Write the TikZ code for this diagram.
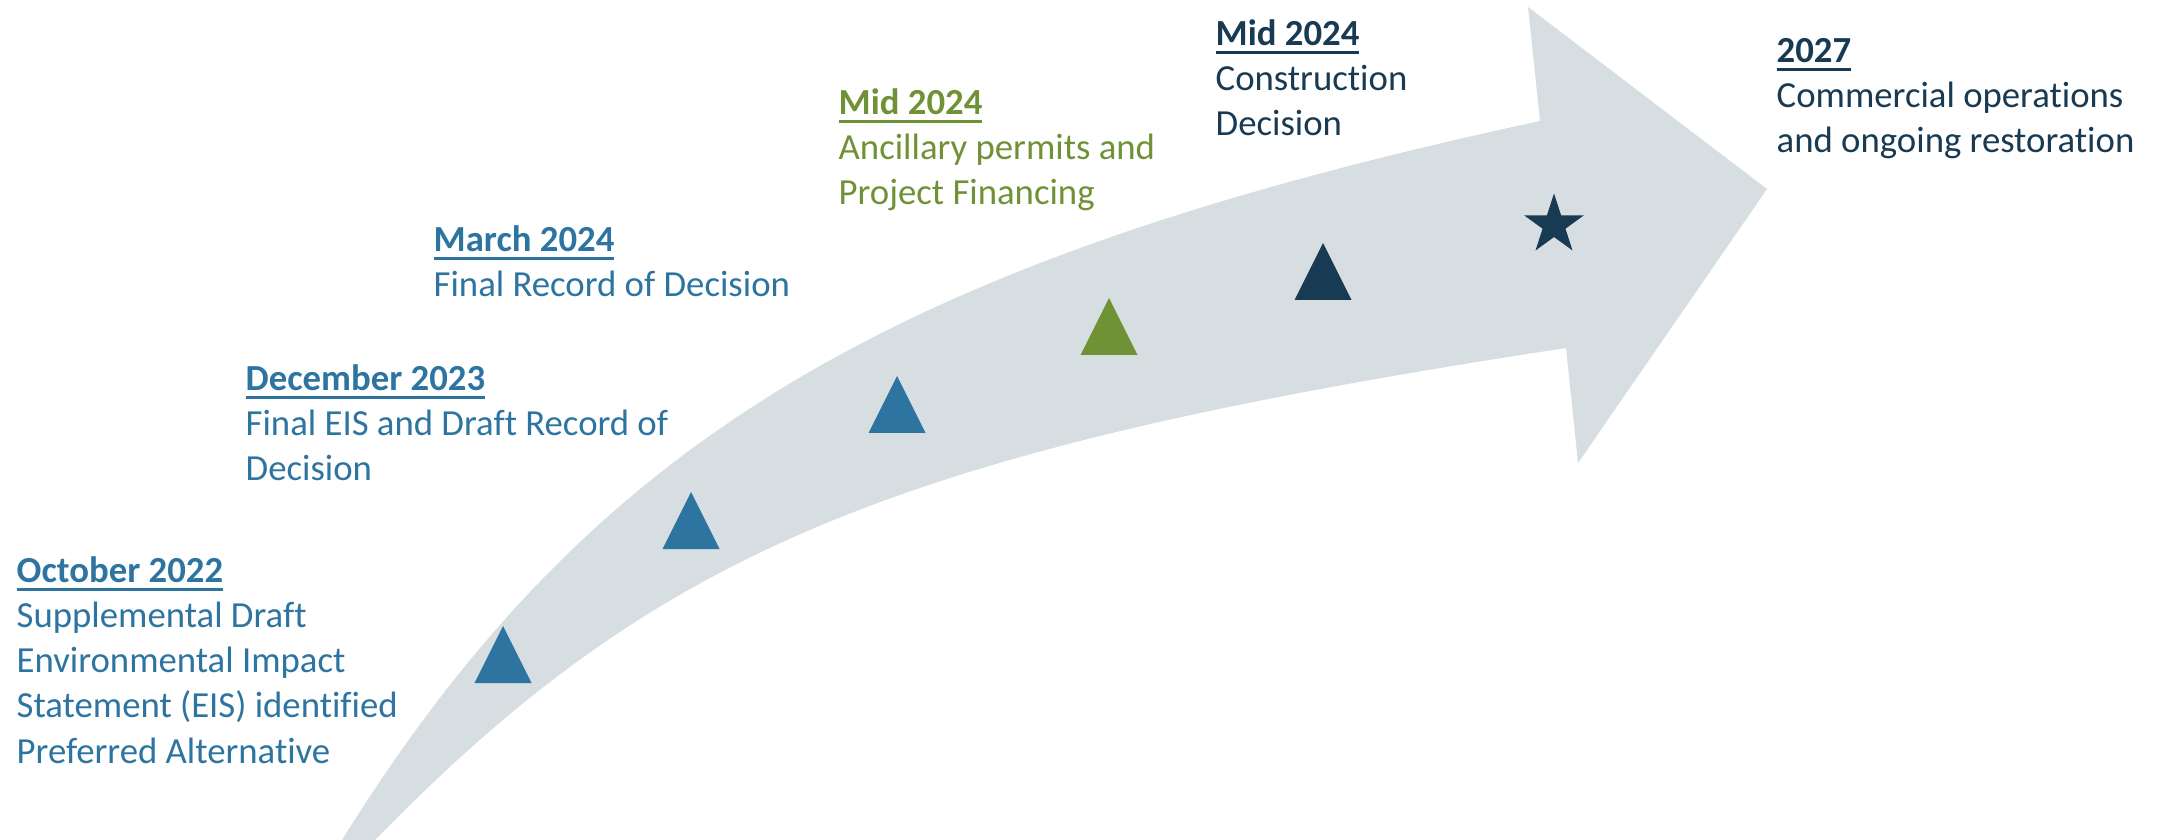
\documentclass[tikz,border=0pt]{standalone}
\usepackage{fontspec}
\setmainfont{Carlito}[Ligatures=NoCommon]
\usepackage{tikz}
\usetikzlibrary{shapes, positioning, calc}
\definecolor{tlblue}{HTML}{2E74A0}
\definecolor{tlgreen}{HTML}{709236}
\definecolor{tlnavy}{HTML}{183A52}
\definecolor{tlgrey}{HTML}{D7DEE2}
\tikzstyle{event} = [anchor=base west, inner sep=0pt, align=left, font=\fontsize{10.45pt}{12.8pt}\selectfont]
\tikzstyle{goalstar} = [star, star points=5, star point ratio=2.618, inner sep=0pt, minimum size=0.63cm]
\newcommand{\eventdate}[1]{\setbox0=\hbox{\bfseries #1}\rlap{\rule[-2.4pt]{\wd0}{0.9pt}}\box0}

\begin{document}
\begin{tikzpicture}[x=0.01cm, y=-0.01cm]
		\useasboundingbox (0,0) rectangle (2164,840);

		\coordinate (tailup)  at (342,  840);
		\coordinate (taillow) at (375,  840);
		\coordinate (notchup) at (1540, 121);
		\coordinate (notchlo) at (1566, 348);
		\coordinate (headup)  at (1528, 7);
		\coordinate (tip)     at (1767, 189);
		\coordinate (headlo)  at (1578, 463);

		\coordinate (m1) at (503,  626);
		\coordinate (m2) at (691,  492);
		\coordinate (m3) at (897,  376);
		\coordinate (m4) at (1109, 298);
		\coordinate (m5) at (1323, 243);

		% curved arrow
		\fill[tlgrey] (tailup) .. controls (591,440) and (890,261) .. (notchup) -- (headup) -- (tip) -- (headlo) -- (notchlo) .. controls (897,450) and (659,549) .. (taillow) -- cycle;

		% milestones
		\foreach \m/\c in {m1/tlblue, m2/tlblue, m3/tlblue, m4/tlgreen, m5/tlnavy}
			\fill[\c] (\m) -- ++(-28.5,57) -- ++(57,0) -- cycle;
		\node[goalstar, fill=tlnavy] (goal) at (1554, 225) {};

		% texts, placed at the baseline of their last line
		\node[event, text=tlblue]  (oct) at (16,   763) {\eventdate{October 2022}\\Supplemental Draft\\Environmental Impact\\Statement (EIS) identified\\Preferred Alternative};
		\node[event, text=tlblue]  (dec) at (245,  481) {\eventdate{December 2023}\\Final EIS and Draft Record of\\Decision};
		\node[event, text=tlblue]  (mar) at (433,  297) {\eventdate{March 2024}\\Final Record of Decision};
		\node[event, text=tlgreen] (fin) at (838,  205) {\eventdate{Mid 2024}\\Ancillary permits and\\Project Financing};
		\node[event, text=tlnavy]  (con) at (1215, 136) {\eventdate{Mid 2024}\\Construction\\Decision};
		\node[event, text=tlnavy]  (ops) at (1776, 153) {\eventdate{2027}\\Commercial operations\\and ongoing restoration};

	\end{tikzpicture}
\end{document}
